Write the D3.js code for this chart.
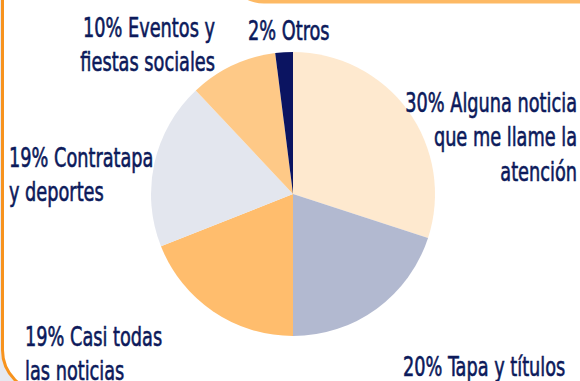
<!DOCTYPE html>
<html>
<head>
<meta charset="utf-8">
<script src="https://cdn.jsdelivr.net/npm/d3@7"></script>
<style>
  html, body { margin: 0; padding: 0; background: #fff; }
  svg { display: block; }
  .lbl { font-family: "Liberation Sans Narrow", "DejaVu Sans Condensed", "DejaVu Sans", sans-serif; font-stretch: condensed; fill: #0c1a5b; stroke: #0c1a5b; stroke-width: 0.6; }
</style>
</head>
<body>
<svg id="chart" width="580" height="381"></svg>
<script>
// Share of readers by what they read in the newspaper (%)
const shares = [30, 20, 19, 19, 10, 2];
const categories = [
  ["Alguna noticia", "que me llame la", "atención"],
  ["Tapa y títulos"],
  ["Casi todas", "las noticias"],
  ["Contratapa", "y deportes"],
  ["Eventos y", "fiestas sociales"],
  ["Otros"]
];
const sliceColors = ["#fee9cf", "#b2b9d0", "#ffbd6d", "#e3e6ee", "#fec987", "#0b1461"];

const W = 580, H = 381;
const svg = d3.select("#chart");

// Frame: grey backdrop, rounded panel with orange left edge, orange band above
svg.append("rect").attr("width", W).attr("height", H).attr("fill", "#e6e8ef");
svg.append("rect")
  .attr("x", 2.5).attr("y", -60).attr("width", W + 60).attr("height", 452)
  .attr("rx", 42).attr("ry", 42)
  .attr("fill", "#fff").attr("stroke", "#f7931e").attr("stroke-width", 3);
svg.append("rect")
  .attr("x", 234).attr("y", -40).attr("width", 400).attr("height", 43.5)
  .attr("rx", 30).attr("ry", 30)
  .attr("fill", "#fdb964");

// Pie
const cx = 293, cy = 194, R = 142;
const pie = d3.pie().sort(null).value(d => d)(shares);
const arc = d3.arc().innerRadius(0).outerRadius(R);
const g = svg.append("g").attr("transform", `translate(${cx},${cy})`);
g.selectAll("path").data(pie).join("path")
  .attr("d", arc)
  .attr("fill", (d, i) => sliceColors[i]);

// Labels: anchor point of first baseline, alignment
const labelLayout = [
  { x: 577, y: 112, anchor: "end" },
  { x: 403, y: 376, anchor: "start" },
  { x: 25,  y: 346, anchor: "start" },
  { x: 9,   y: 167, anchor: "start" },
  { x: 215, y: 37,  anchor: "end" },
  { x: 248, y: 40,  anchor: "start" }
];
const lineGap = 34.5;
const squeeze = 0.73;

shares.forEach((v, i) => {
  const L = labelLayout[i];
  const lines = categories[i].map((t, k) => k === 0 ? `${v}% ${t}` : t);
  const t = svg.append("text").attr("class", "lbl")
    .attr("font-size", 27)
    .attr("text-anchor", L.anchor)
    .attr("transform", `translate(${L.x},${L.y}) scale(${squeeze},1)`);
  lines.forEach((s, k) => {
    t.append("tspan").attr("x", 0).attr("y", k * lineGap).text(s);
  });
});
</script>
</body>
</html>
